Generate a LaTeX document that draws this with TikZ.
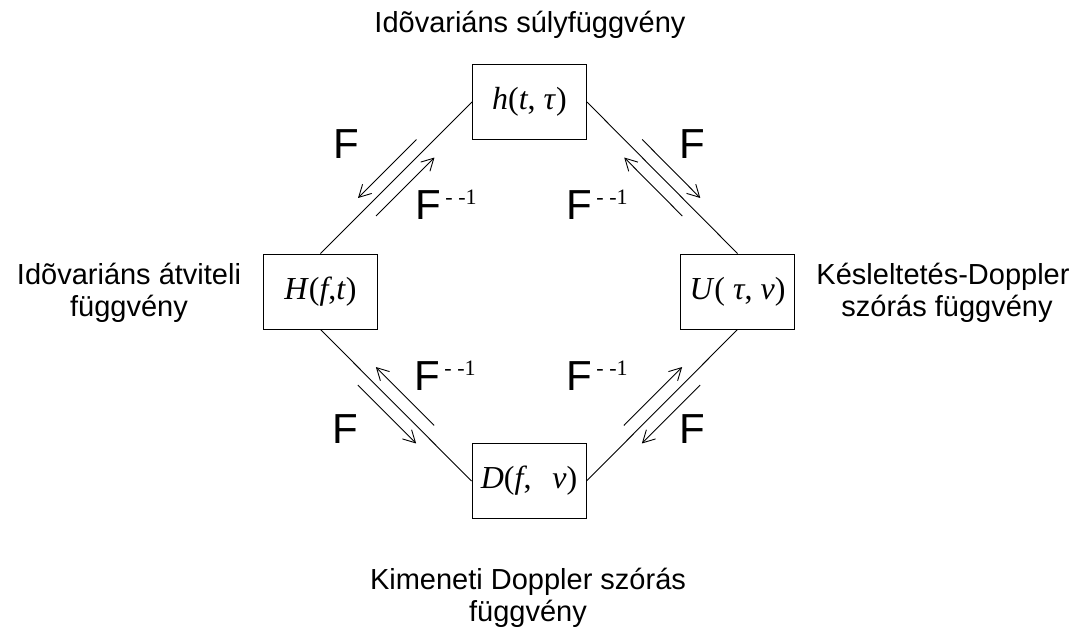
\documentclass[tikz,border=0pt]{standalone}
\usepackage{fontspec}
\setmainfont{Liberation Sans}
\newfontfamily\tms{Liberation Serif}
\usetikzlibrary{arrows.meta,calc}
\tikzset{
 box/.style={draw, line width=1pt, minimum width=114pt, minimum height=75pt, inner sep=0pt, font=\tms\fontsize{32}{36}\selectfont},
 conn/.style={line width=0.9pt},
 farrow/.style={line width=0.9pt, -{Straight Barb[length=12pt,width=13pt,line width=0.9pt]}},
 lbl/.style={font=\fontsize{29}{33}\selectfont, inner sep=0pt, anchor=base},
 flbl/.style={font=\fontsize{42}{44}\selectfont, inner sep=0pt, anchor=base west},
}
\newcommand{\Finv}{F\hspace{4pt}{\tms\fontsize{22}{24}\selectfont\raisebox{15pt}{- -1}}}
\begin{document}
\begin{tikzpicture}[x=1pt,y=-1pt]
\useasboundingbox (0,0) rectangle (1073,630);
% boxes
\node[box] (top) at (529.5,102) {\textit{h}(\textit{t}, \textit{τ})};
\node[box] (left) at (320.5,291.5) {\textit{H}(\textit{f},\textit{t})};
\node[box] (right) at (737.5,291.5) {\textit{U}( \textit{τ}, \textit{ν})};
\node[box] (bottom) at (529,481) {\textit{D}(\textit{f}, \hspace{0.4em}\textit{ν})};
% connectors
\draw[conn] (top.west) -- (left.north);
\draw[conn] (top.east) -- (right.north);
\draw[conn] (left.south) -- (bottom.west);
\draw[conn] (right.south) -- (bottom.east);
% arrow anchor points
\coordinate (tl1) at ($(top.west)!0.307!(left.north)$);
\coordinate (tl2) at ($(top.west)!0.693!(left.north)$);
\coordinate (tr1) at ($(top.east)!0.307!(right.north)$);
\coordinate (tr2) at ($(top.east)!0.693!(right.north)$);
\coordinate (ll1) at ($(left.south)!0.307!(bottom.west)$);
\coordinate (ll2) at ($(left.south)!0.693!(bottom.west)$);
\coordinate (lr1) at ($(right.south)!0.307!(bottom.east)$);
\coordinate (lr2) at ($(right.south)!0.693!(bottom.east)$);
% arrows
\draw[farrow] ($(tl1)+(-9,-9)$) -- ($(tl2)+(-9,-9)$);
\draw[farrow] ($(tl2)+(9,9)$) -- ($(tl1)+(9,9)$);
\draw[farrow] ($(tr1)+(9,-9)$) -- ($(tr2)+(9,-9)$);
\draw[farrow] ($(tr2)+(-9,9)$) -- ($(tr1)+(-9,9)$);
\draw[farrow] ($(ll1)+(-9,9)$) -- ($(ll2)+(-9,9)$);
\draw[farrow] ($(ll2)+(9,-9)$) -- ($(ll1)+(9,-9)$);
\draw[farrow] ($(lr1)+(9,9)$) -- ($(lr2)+(9,9)$);
\draw[farrow] ($(lr2)+(-9,-9)$) -- ($(lr1)+(-9,-9)$);
% F labels
\node[flbl] (ftl) at (333.6,158) {F};
\node[flbl] (ftr) at (679.6,158) {F};
\node[flbl] (fll) at (332.6,443) {F};
\node[flbl] (flr) at (679.6,443) {F};
\node[flbl] (itl) at (415.6,219) {\Finv};
\node[flbl] (itr) at (566.6,219) {\Finv};
\node[flbl] (ill) at (414.6,390) {\Finv};
\node[flbl] (ilr) at (566.6,390) {\Finv};
% texts
\node[lbl] (title) at (530,32) {Idõvariáns súlyfüggvény};
\node[lbl] (lt1) at (129,284) {Idõvariáns átviteli};
\node[lbl] (lt2) at (129,316) {függvény};
\node[lbl] (rt1) at (943,284) {Késleltetés-Doppler};
\node[lbl] (rt2) at (947,316) {szórás függvény};
\node[lbl] (bt1) at (528,589) {Kimeneti Doppler szórás};
\node[lbl] (bt2) at (528,621) {függvény};
\end{tikzpicture}
\end{document}
